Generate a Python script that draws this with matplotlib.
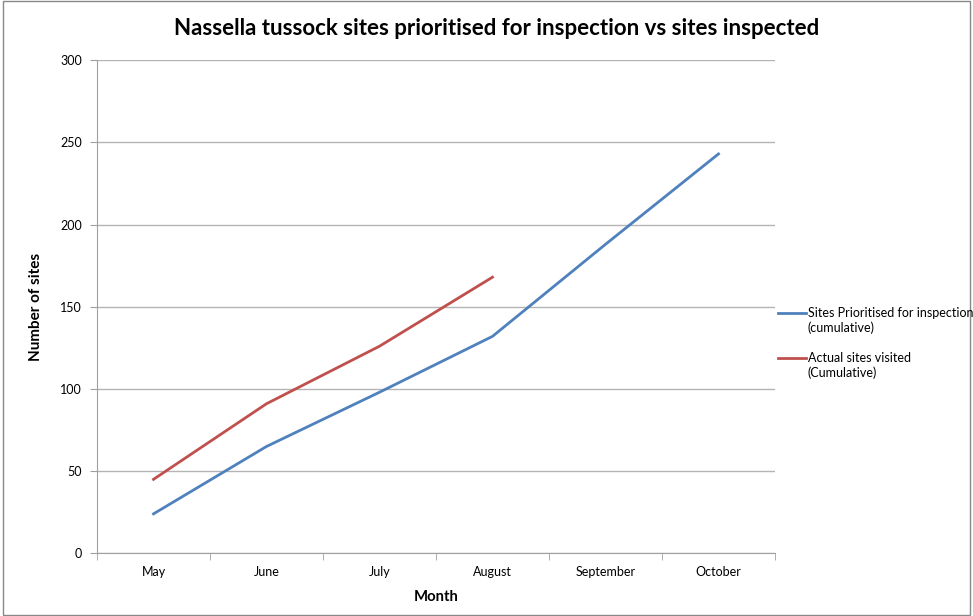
import matplotlib.pyplot as plt
from matplotlib.lines import Line2D
from matplotlib.patches import Rectangle

months = ["May", "June", "July", "August", "September", "October"]
prioritised = [24, 65, 98, 132, 188, 243]
visited = [45, 91, 126, 168]
y_ticks = [0, 50, 100, 150, 200, 250, 300]
legend_labels = [("Sites Prioritised for inspection", "(cumulative)"),
                 ("Actual sites visited", "(Cumulative)")]
colors = ["#4F81BD", "#C0504D"]

plt.rcParams['font.family'] = ['Lato', 'DejaVu Sans']

fig = plt.figure(figsize=(9.73, 6.16), dpi=100)
ax = fig.add_axes([0.0997, 0.1018, 0.6968, 0.8004])

x_all = list(range(len(months)))
ax.plot(x_all, prioritised, color=colors[0], linewidth=2)
ax.plot(x_all[:len(visited)], visited, color=colors[1], linewidth=2)

ax.set_xlim(-0.5, len(months) - 0.5)
ax.set_ylim(0, 300)
ax.set_yticks(y_ticks)
ax.set_xticks(x_all)
ax.set_xticklabels(months, fontsize=9)
ax.set_xticks([i - 0.5 for i in range(len(months) + 1)], minor=True)
ax.tick_params(axis='x', which='major', length=0, pad=9)
ax.tick_params(axis='x', which='minor', length=5, color="#A0A0A0")
ax.tick_params(axis='y', length=5, color="#A0A0A0", labelsize=9, pad=6)

ax.grid(axis='y', color="#B4B4B4", linewidth=1)
ax.set_axisbelow(True)
for side in ("top", "right"):
    ax.spines[side].set_visible(False)
for side in ("left", "bottom"):
    ax.spines[side].set_color("#A0A0A0")

ax.set_xlabel("Month", fontsize=10.7, fontweight="bold", labelpad=9)
ax.set_ylabel("Number of sites", fontsize=11, fontweight="bold", labelpad=12)
fig.text(0.51, 0.953, "Nassella tussock sites prioritised for inspection vs sites inspected",
         ha="center", va="center", fontsize=16, fontweight="bold")

# Excel-style legend: line sits level with the first text line
x0, x1, xt = 778 / 973, 806 / 973, 808 / 973
for i, ((first, second), c) in enumerate(zip(legend_labels, colors)):
    y = 1 - (313 + 45 * i) / 616
    fig.add_artist(Line2D([x0, x1], [y, y], color=c, linewidth=2,
                          transform=fig.transFigure))
    fig.text(xt, y, first, fontsize=9, va="center")
    fig.text(xt, y - 15 / 616, second, fontsize=9, va="center")

fig.patches.append(Rectangle((0.003, 0.002), 0.994, 0.996, transform=fig.transFigure,
                             fill=False, edgecolor="#888888", linewidth=1))

fig.savefig("out.png", dpi=100)
